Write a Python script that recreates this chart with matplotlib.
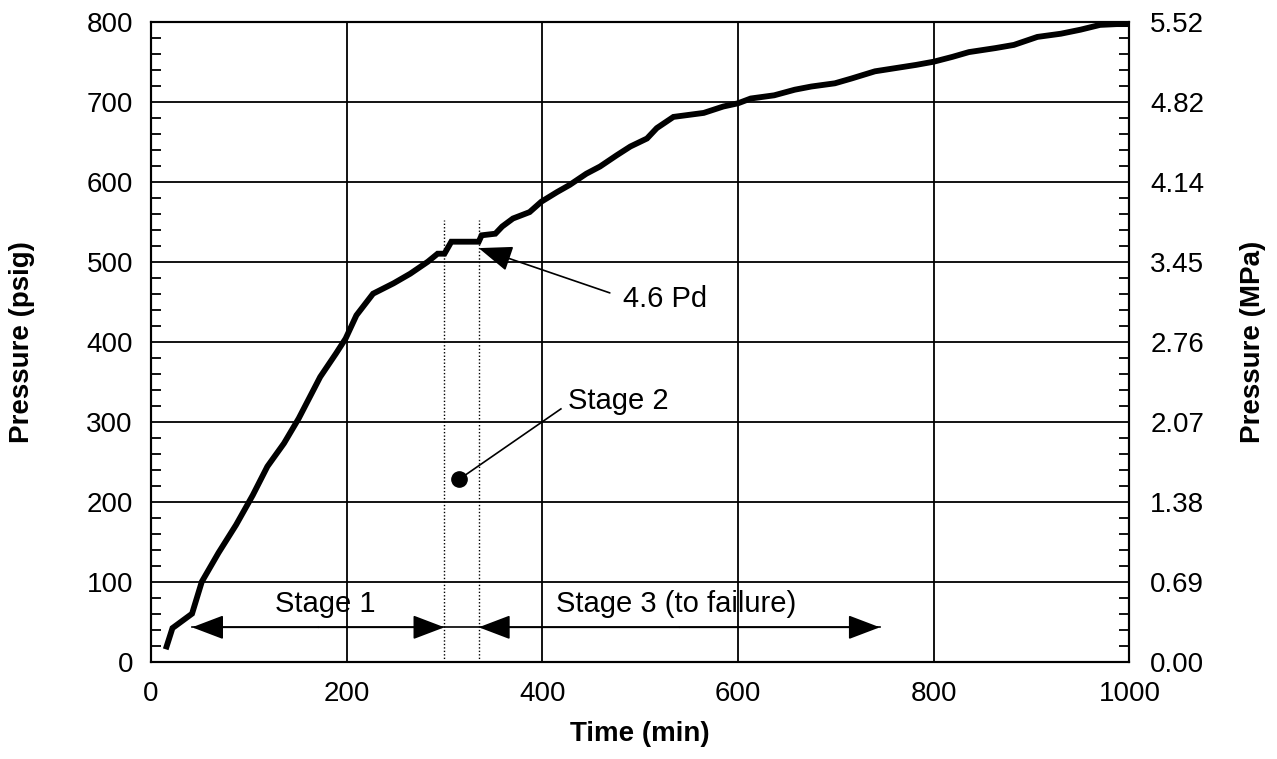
import matplotlib
matplotlib.use("Agg")
import matplotlib.pyplot as plt
from matplotlib.ticker import MultipleLocator, FixedLocator, FixedFormatter

# ---- data ----
time_min = [16, 22, 42, 52, 69, 87, 104, 119, 136, 151, 173, 189, 199, 210, 227,
            248, 265, 283, 293, 300, 307, 335, 338, 352, 359, 370, 387, 399, 415,
            428, 445, 459, 476, 490, 507, 517, 534, 565, 585, 600, 613, 637, 658,
            675, 699, 716, 740, 761, 782, 800, 819, 836, 863, 882, 906, 930, 950,
            970, 987, 997]
pressure_psig = [19, 42, 60, 100, 136, 171, 208, 244, 273, 304, 356, 385, 404, 433,
                 460, 473, 485, 500, 510, 510, 525, 525, 533, 535, 544, 554, 562,
                 575, 587, 596, 610, 619, 633, 644, 654, 667, 681, 686, 694, 698,
                 704, 708, 715, 719, 723, 729, 738, 742, 746, 750, 756, 762, 767,
                 771, 781, 785, 790, 796, 797, 797]

mpa_tick_labels = ["0.00", "0.69", "1.38", "2.07", "2.76", "3.45", "4.14", "4.82", "5.52"]
psig_ticks = [0, 100, 200, 300, 400, 500, 600, 700, 800]
time_ticks = [0, 200, 400, 600, 800, 1000]

stage_bounds = [300, 335]          # dotted lines bounding Stage 2
stage_line_top = 552
arrow_y = 43
stage1_range = [42, 300]
stage3_range = [335, 745]
stage_text = ["Stage 1", "Stage 3 (to failure)"]
stage_text_pos = [(178, 72), (537, 72)]
stage2_point = (315, 228)
stage2_text_pos = (426, 316)
pd_tip = (335, 517)
pd_text_pos = (482, 444)

FONT = "Liberation Sans"
plt.rcParams["font.family"] = [FONT, "DejaVu Sans"]

fig = plt.figure(figsize=(12.77, 7.59), dpi=100)
ax = fig.add_axes([0.1182, 0.1282, 0.7662, 0.8432])

ax.set_xlim(0, 1000)
ax.set_ylim(0, 800)

# grid
ax.set_xticks(time_ticks)
ax.set_yticks(psig_ticks)
ax.yaxis.set_minor_locator(MultipleLocator(20))
ax.grid(True, which="major", color="black", linewidth=1.3)
ax.set_axisbelow(True)

# curve
ax.plot(time_min, pressure_psig, color="black", linewidth=4.2,
        solid_joinstyle="miter", zorder=5)

# dotted stage-2 bounds
ax.vlines(stage_bounds, 0, stage_line_top, colors="black", linestyles=(0, (1, 1.5)),
          linewidth=1.0, zorder=4)

# stage arrows
ax.plot([stage1_range[0], stage3_range[1]], [arrow_y, arrow_y], color="black",
        linewidth=1.2, zorder=6)
aprops = dict(arrowstyle="-|>,head_length=1.0,head_width=0.38", color="black",
              mutation_scale=20, shrinkA=0, shrinkB=0, linewidth=1.2)
mid1 = sum(stage1_range) / 2
mid3 = sum(stage3_range) / 2
for tip, mid in [(stage1_range[0], mid1), (stage1_range[1], mid1),
                 (stage3_range[0], mid3), (stage3_range[1], mid3)]:
    ax.annotate("", xy=(tip, arrow_y), xytext=(mid, arrow_y), arrowprops=aprops,
                zorder=6)

for txt, (tx, ty) in zip(stage_text, stage_text_pos):
    ax.text(tx, ty, txt, fontsize=21, ha="center", va="center", zorder=7)

# Stage 2 marker + label
ax.plot([stage2_point[0]], [stage2_point[1]], "o", color="black", markersize=11,
        zorder=7)
ax.plot([stage2_point[0], stage2_text_pos[0] - 7], [stage2_point[1], stage2_text_pos[1]],
        color="black", linewidth=1.2, zorder=6)
ax.text(stage2_text_pos[0], stage2_text_pos[1], "Stage 2", fontsize=21,
        ha="left", va="baseline", zorder=7)

# 4.6 Pd annotation
ax.annotate("", xy=pd_tip, xytext=(pd_text_pos[0] - 13, pd_text_pos[1] + 17),
            arrowprops=dict(arrowstyle="-|>,head_length=1.05,head_width=0.4",
                            color="black", mutation_scale=20, shrinkA=0, shrinkB=0,
                            linewidth=1.2), zorder=7)
ax.text(pd_text_pos[0], pd_text_pos[1], "4.6 Pd", fontsize=21, ha="left",
        va="baseline", zorder=7)

# axes styling
for sp in ax.spines.values():
    sp.set_linewidth(1.5)
ax.tick_params(axis="x", which="both", length=0, pad=14, labelsize=20)
ax.tick_params(axis="y", which="major", length=0, pad=13, labelsize=20)
ax.tick_params(axis="y", which="minor", direction="in", length=7, width=1.3)

ax.set_xlabel("Time (min)", fontsize=20, fontweight="bold", labelpad=10)
ax.set_ylabel("Pressure (psig)", fontsize=20, fontweight="bold")
ax.yaxis.set_label_coords(-0.1186, 0.5)

# right axis
ax2 = ax.twinx()
ax2.set_ylim(0, 800)
ax2.yaxis.set_major_locator(FixedLocator(psig_ticks))
ax2.yaxis.set_major_formatter(FixedFormatter(mpa_tick_labels))
ax2.yaxis.set_minor_locator(MultipleLocator(20))
ax2.tick_params(axis="y", which="major", length=0, pad=15, labelsize=20)
ax2.tick_params(axis="y", which="minor", direction="in", length=7, width=1.3)
ax2.set_ylabel("Pressure (MPa)", fontsize=20, fontweight="bold")
ax2.yaxis.set_label_coords(1.1134, 0.5)
for sp in ax2.spines.values():
    sp.set_linewidth(1.5)

fig.savefig("out.png", dpi=100)
